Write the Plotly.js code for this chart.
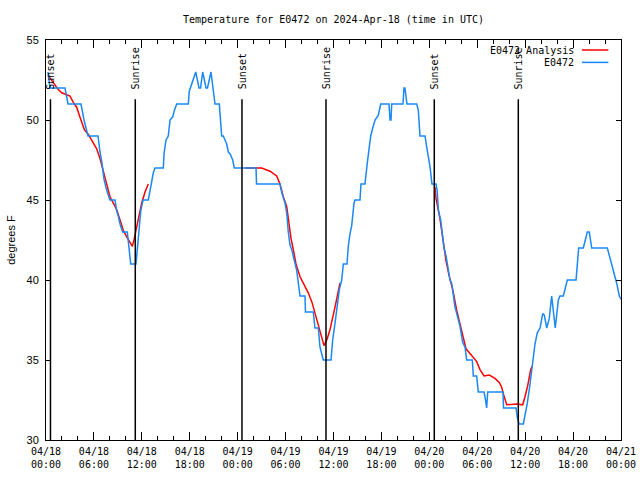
<!DOCTYPE html>
<html><head><meta charset="utf-8">
<script src="https://cdn.plot.ly/plotly-3.0.1.min.js"></script>
<style>html,body{margin:0;padding:0;background:#fff}#chart{width:640px;height:480px}</style>
</head><body><div id="chart"></div>
<script>
// Hours since 2024-04-18 00:00 UTC
var obsHours = [
 0.25,0.50,2.38,2.76,4.38,4.76,5.26,6.51,6.76,7.01,
 7.26,7.60,8.01,8.64,8.85,9.05,9.27,9.60,10.18,10.31,
 10.43,10.61,11.27,11.43,11.56,11.68,11.86,12.11,12.18,12.81,
 13.02,13.24,13.44,13.65,14.69,14.78,15.03,15.31,15.53,15.87,
 16.07,16.37,17.82,17.94,18.24,18.53,18.75,19.16,19.35,19.62,
 20.04,20.22,20.66,20.91,21.16,21.70,21.88,22.00,22.20,22.63,
 22.83,23.04,23.38,23.58,26.30,26.36,29.30,29.51,29.93,30.14,
 30.34,30.55,30.77,31.18,31.39,31.81,32.43,32.49,33.47,33.68,
 34.10,34.31,34.72,35.69,35.90,36.19,36.48,36.73,37.03,37.23,
 37.69,37.85,38.07,38.28,38.57,38.69,39.32,39.44,39.94,40.07,
 40.23,40.48,40.66,40.91,41.20,41.61,41.91,42.95,43.08,43.20,
 43.29,44.70,44.83,44.95,45.20,46.42,46.62,46.83,47.46,47.67,
 47.87,48.08,48.33,48.84,49.00,49.12,49.42,49.67,49.84,50.09,
 50.38,50.59,50.80,51.00,51.21,51.43,51.84,52.18,52.47,52.68,
 53.38,53.51,53.93,54.13,54.85,54.97,55.18,55.31,57.22,57.29,
 58.85,59.02,59.23,59.77,59.98,60.27,60.61,60.82,61.02,61.23,
 61.52,61.86,62.20,62.40,62.70,63.02,63.32,63.52,63.77,64.15,
 64.36,64.78,64.99,65.28,66.37,66.53,66.70,67.28,67.49,67.78,
 68.03,68.33,70.29,70.62,71.04,71.46,71.79,72.00
];
var obsTemps = [
 53,52,52,51,51,50,49,49,48,47.3,
 46.3,45.6,45,45,44.3,44,43.5,43,43,42.5,
 41.9,41,41,42,42.7,43.75,44.3,44.9,45,45,
 45.6,46.25,46.7,47,47,47.9,48.75,49,50,50.2,
 50.6,51,51,51.8,52.2,52.7,53,52,52,53,
 52,52,53,52,51,51,50,49,49,48.5,
 48,47.9,47.5,47,47,46,46,45.5,44.8,44.2,
 43,42.2,41.9,41,40.6,39,39,38,38,37,
 37,35.8,35,35,36.25,37.3,38.3,39.4,40,41,
 41,42.1,42.9,43.4,44.8,45,45,46,46,46.7,
 47.3,48.3,49,49.5,50,50.3,51,51,50,50,
 51,51,52,52,51,51,50.6,49,49,48.3,
 47.7,47.1,46,46,45.5,44.4,43.75,42.7,42,41.5,
 40.6,40,39.8,39,38.3,37.9,37.1,36.1,35.8,35,
 35,34,34,33,33,32.7,32,33,33,32,
 32,31.4,31,31,31.5,32.3,33.5,34.4,35,36,
 36.7,37,37.9,37.8,37,37.6,39,38.1,37,38.75,
 39,39,39.5,40,40,41,42,42,42.5,43,
 43,42,42,41.4,40.6,39.8,39,38.8
];
var anaHours1 = [0.25,0.91,1.54,1.97,2.59,3.01,3.42,3.84,4.17,4.47,4.80,5.30,5.92,6.35,6.76,7.18,7.60,8.01,8.43,8.85,9.27,9.68,10.11,10.52,10.81,11.06,11.36,11.68,11.98,12.40,12.81];
var anaTemps1 = [52.8,52.3,51.9,51.7,51.6,51.5,51.1,50.8,50.3,49.8,49.4,49.1,48.6,48.2,47.6,46.8,45.9,45.2,44.8,44.4,43.75,43.1,42.7,42.3,42.1,42.6,43.3,44.1,44.8,45.5,46.0];
var anaHours2 = [24.92,27.01,28.05,28.89,29.30,29.71,30.14,30.34,30.68,30.97,31.30,31.81,32.31,32.84,33.31,33.68,34.31,34.81,35.19,35.56,36.19,36.81];
var anaTemps2 = [47.0,47.0,46.8,46.5,46.0,45.2,44.6,43.75,42.6,41.9,41.0,40.2,39.7,39.2,38.6,37.9,36.8,35.9,36.3,36.9,38.3,39.8];
var anaHours3 = [48.71,48.84,49.34,49.71,50.09,50.46,50.93,51.43,52.05,52.59,53.09,53.93,54.34,54.85,55.51,56.22,56.76,57.06,57.26,57.69,58.94,59.69,59.98,60.32,60.69,60.86];
var anaTemps3 = [45.8,45.1,43.8,42.5,41.2,40.3,39.4,38.1,36.9,35.7,35.4,34.9,34.4,34.0,34.06,33.85,33.6,33.3,32.9,32.2,32.25,32.2,32.7,33.4,34.4,34.6];
var sunHours = [0.56,11.18,24.54,35.06,48.62,59.14];
var sunLabels = ["Sunset","Sunrise","Sunset","Sunrise","Sunset","Sunrise"];
var seriesNames = ["E0472 Analysis","E0472"];
var seriesColors = ["#ff0000","#1a88f5"];

var BASE = Date.UTC(2024,3,18,0,0,0);
function toDate(h){
  if(h===null) return null;
  return new Date(BASE + Math.round(h*3600000)).toISOString().replace('T',' ').replace('Z','');
}
var anaX = anaHours1.concat([null], anaHours2, [null], anaHours3).map(toDate);
var anaY = anaTemps1.concat([null], anaTemps2, [null], anaTemps3);

var traces = [
  {x: anaX, y: anaY, type:'scatter', mode:'lines', name: seriesNames[0], connectgaps:false,
   line:{color:seriesColors[0], width:1.5}, hoverinfo:'skip'},
  {x: obsHours.map(toDate), y: obsTemps, type:'scatter', mode:'lines', name: seriesNames[1],
   line:{color:seriesColors[1], width:1.5}, hoverinfo:'skip'}
];

var mono = 'DejaVu Sans Mono, monospace';
var sans = 'Liberation Sans, Arial, sans-serif';
var shapes = [], annotations = [];
sunHours.forEach(function(h,i){
  shapes.push({type:'line', xref:'x', yref:'paper', x0:toDate(h), x1:toDate(h), y0:0, y1:0.852,
    line:{color:'#000', width:1.5}});
  annotations.push({xref:'x', yref:'paper', x:toDate(h), y:0.872, text:sunLabels[i], textangle:-90,
    xanchor:'center', yanchor:'bottom', showarrow:false, font:{family:mono, size:10, color:'#000'}});
});
// custom legend (text left of line sample)
var legY = [0.975, 0.944];
seriesNames.forEach(function(n,i){
  annotations.push({xref:'paper', yref:'paper', x:0.922, y:legY[i], text:n, xanchor:'right', yanchor:'middle',
    showarrow:false, font:{family:mono, size:10, color:'#000'}});
  shapes.push({type:'line', xref:'paper', yref:'paper', x0:0.932, x1:0.978, y0:legY[i], y1:legY[i],
    line:{color:seriesColors[i], width:1.5}});
});

var layout = {
  width:640, height:480,
  margin:{l:46, r:19, t:40, b:40, pad:0},
  paper_bgcolor:'#fff', plot_bgcolor:'#fff',
  font:{family:mono, size:10, color:'#000'},
  showlegend:false,
  title:{text:'Temperature for E0472 on 2024-Apr-18 (time in UTC)', font:{family:mono, size:10, color:'#000'},
    x:0.5, xref:'paper', xanchor:'center', y:0.96, yref:'container', yanchor:'middle'},
  xaxis:{type:'date', range:[toDate(0), toDate(72)], tick0:toDate(0), dtick:6*3600000,
    tickformat:'%m/%d<br>%H:%M', ticks:'inside', ticklen:8, tickwidth:1, tickcolor:'#000',
    minor:{dtick:2*3600000, ticks:'inside', ticklen:4, tickcolor:'#000', showgrid:false},
    showline:true, linecolor:'#000', linewidth:1, mirror:'allticks', showgrid:false, zeroline:false,
    tickfont:{family:mono, size:10, color:'#000'}, ticklabelstandoff:2},
  yaxis:{range:[30,55], tick0:30, dtick:5, ticks:'inside', ticklen:5, tickwidth:1, tickcolor:'#000',
    showline:true, linecolor:'#000', linewidth:1, mirror:'allticks', showgrid:false, zeroline:false,
    tickfont:{family:sans, size:11, color:'#000'}, ticklabelstandoff:4,
    title:{text:'degrees F', font:{family:sans, size:11, color:'#000'}, standoff:8}},
  shapes:shapes, annotations:annotations
};
Plotly.newPlot('chart', traces, layout, {displayModeBar:false, staticPlot:true});
</script></body></html>
